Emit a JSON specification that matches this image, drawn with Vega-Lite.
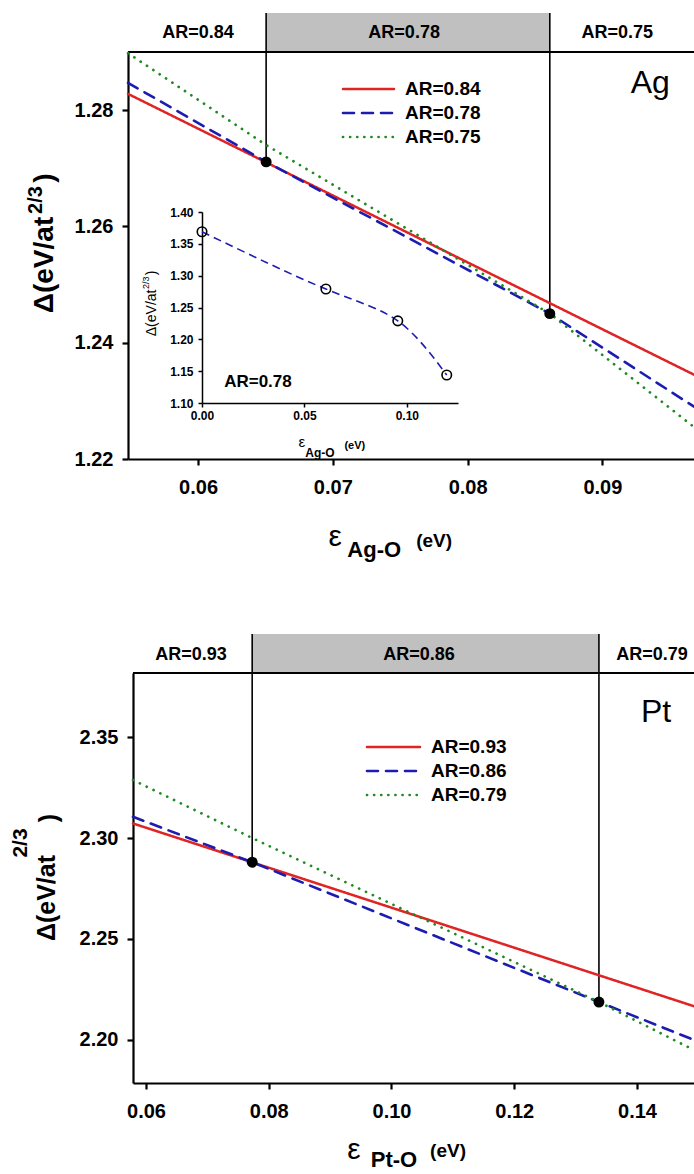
{
  "$schema": "https://vega.github.io/schema/vega-lite/v6.json",
  "width": 694,
  "height": 1174,
  "padding": 0,
  "autosize": {"type": "none"},
  "background": "white",
  "config": {
    "view": {"stroke": null},
    "font": "Liberation Sans",
    "axis": {"grid": false, "labelColor": "black", "tickColor": "black", "domainColor": "black", "labelFont": "Liberation Sans", "labelFontWeight": "bold", "labelFlush": false, "labelOverlap": false},
    "text": {"font": "Liberation Sans", "color": "black", "align": "center", "baseline": "middle"}
  },
  "datasets": {
    "curves": [
      {"panel": "Ag", "ar": "AR=0.84", "x": 0.0548, "y": 1.2828},
      {"panel": "Ag", "ar": "AR=0.84", "x": 0.0968, "y": 1.2345},
      {"panel": "Ag", "ar": "AR=0.78", "x": 0.0548, "y": 1.2847},
      {"panel": "Ag", "ar": "AR=0.78", "x": 0.06505, "y": 1.2711},
      {"panel": "Ag", "ar": "AR=0.78", "x": 0.0861, "y": 1.2450},
      {"panel": "Ag", "ar": "AR=0.78", "x": 0.0968, "y": 1.2290},
      {"panel": "Ag", "ar": "AR=0.75", "x": 0.0548, "y": 1.2898},
      {"panel": "Ag", "ar": "AR=0.75", "x": 0.06505, "y": 1.2740},
      {"panel": "Ag", "ar": "AR=0.75", "x": 0.0861, "y": 1.2450},
      {"panel": "Ag", "ar": "AR=0.75", "x": 0.0968, "y": 1.2255},
      {"panel": "Pt", "ar": "AR=0.93", "x": 0.05788, "y": 2.3072},
      {"panel": "Pt", "ar": "AR=0.93", "x": 0.14929, "y": 2.2167},
      {"panel": "Pt", "ar": "AR=0.86", "x": 0.05788, "y": 2.3105},
      {"panel": "Pt", "ar": "AR=0.86", "x": 0.0773, "y": 2.2880},
      {"panel": "Pt", "ar": "AR=0.86", "x": 0.1338, "y": 2.2188},
      {"panel": "Pt", "ar": "AR=0.86", "x": 0.14929, "y": 2.2000},
      {"panel": "Pt", "ar": "AR=0.79", "x": 0.05788, "y": 2.3287},
      {"panel": "Pt", "ar": "AR=0.79", "x": 0.0773, "y": 2.3000},
      {"panel": "Pt", "ar": "AR=0.79", "x": 0.1338, "y": 2.2188},
      {"panel": "Pt", "ar": "AR=0.79", "x": 0.14929, "y": 2.1950}
    ],
    "dots": [
      {"panel": "Ag", "x": 0.06505, "y": 1.2711, "top": 1.2967},
      {"panel": "Ag", "x": 0.0861, "y": 1.2450, "top": 1.2967},
      {"panel": "Pt", "x": 0.0773, "y": 2.2880, "top": 2.4010},
      {"panel": "Pt", "x": 0.1338, "y": 2.2188, "top": 2.4010}
    ],
    "bands": [
      {"panel": "Ag", "x": 0.06505, "x2": 0.0861, "y": 1.29, "y2": 1.2967},
      {"panel": "Pt", "x": 0.0773, "x2": 0.1338, "y": 2.3817, "y2": 2.4010}
    ],
    "borders": [
      {"panel": "Ag", "x": 0.0548, "x2": 0.0968, "y": 1.29},
      {"panel": "Pt", "x": 0.05788, "x2": 0.14929, "y": 2.3817}
    ],
    "legend": [
      {"panel": "Ag", "ar": "AR=0.84", "end": 0}, {"panel": "Ag", "ar": "AR=0.84", "end": 1},
      {"panel": "Ag", "ar": "AR=0.78", "end": 0}, {"panel": "Ag", "ar": "AR=0.78", "end": 1},
      {"panel": "Ag", "ar": "AR=0.75", "end": 0}, {"panel": "Ag", "ar": "AR=0.75", "end": 1},
      {"panel": "Pt", "ar": "AR=0.93", "end": 0}, {"panel": "Pt", "ar": "AR=0.93", "end": 1},
      {"panel": "Pt", "ar": "AR=0.86", "end": 0}, {"panel": "Pt", "ar": "AR=0.86", "end": 1},
      {"panel": "Pt", "ar": "AR=0.79", "end": 0}, {"panel": "Pt", "ar": "AR=0.79", "end": 1}
    ],
    "inset": [
      {"x": 0.0, "y": 1.369},
      {"x": 0.0605, "y": 1.279},
      {"x": 0.0956, "y": 1.229},
      {"x": 0.1195, "y": 1.144}
    ],
    "labels": [
      {"panel": "Ag", "kind": "head", "text": "AR=0.84", "x": 0.06, "y": 1.29326},
      {"panel": "Ag", "kind": "head", "text": "AR=0.78", "x": 0.07529, "y": 1.29326},
      {"panel": "Ag", "kind": "head", "text": "AR=0.75", "x": 0.09111, "y": 1.29326},
      {"panel": "Ag", "kind": "tag", "text": "Ag", "x": 0.09356, "y": 1.28466},
      {"panel": "Ag", "kind": "eps", "text": "ε", "x": 0.07017, "y": 1.20659},
      {"panel": "Ag", "kind": "sub", "text": "Ag-O", "x": 0.07307, "y": 1.20435},
      {"panel": "Ag", "kind": "unit", "text": "(eV)", "x": 0.07752, "y": 1.2059},
      {"panel": "Ag", "kind": "yt", "text": "Δ(eV/at", "x": 0.04864, "y": 1.25337},
      {"panel": "Ag", "kind": "yt", "text": ")", "x": 0.04864, "y": 1.26832},
      {"panel": "Ag", "kind": "ysup", "text": "2/3", "x": 0.04797, "y": 1.26454},
      {"panel": "Pt", "kind": "head", "text": "AR=0.93", "x": 0.06733, "y": 2.39059},
      {"panel": "Pt", "kind": "head", "text": "AR=0.86", "x": 0.10448, "y": 2.39059},
      {"panel": "Pt", "kind": "head", "text": "AR=0.79", "x": 0.14244, "y": 2.39059},
      {"panel": "Pt", "kind": "tag", "text": "Pt", "x": 0.1431, "y": 2.36238},
      {"panel": "Pt", "kind": "eps", "text": "ε", "x": 0.09389, "y": 2.14555},
      {"panel": "Pt", "kind": "sub", "text": "Pt-O", "x": 0.10041, "y": 2.14059},
      {"panel": "Pt", "kind": "unit", "text": "(eV)", "x": 0.10921, "y": 2.14505},
      {"panel": "Pt", "kind": "yt", "text": "Δ(eV/at", "x": 0.04387, "y": 2.2703},
      {"panel": "Pt", "kind": "yt", "text": ")", "x": 0.0442, "y": 2.3099},
      {"panel": "Pt", "kind": "ysup", "text": "2/3", "x": 0.03963, "y": 2.29752},
      {"panel": "In", "kind": "iar", "text": "AR=0.78", "x": 0.02732, "y": 1.13302},
      {"panel": "In", "kind": "ieps", "text": "ε", "x": 0.04878, "y": 1.03868},
      {"panel": "In", "kind": "isub", "text": "Ag-O", "x": 0.05756, "y": 1.02138},
      {"panel": "In", "kind": "iunit", "text": "(eV)", "x": 0.07463, "y": 1.03239},
      {"panel": "In", "kind": "iyt", "text": "Δ(eV/at", "x": -0.02439, "y": 1.24151},
      {"panel": "In", "kind": "iyt", "text": ")", "x": -0.02439, "y": 1.3044},
      {"panel": "In", "kind": "iysup", "text": "2/3", "x": -0.02732, "y": 1.28868}
    ]
  },
  "resolve": {
    "scale": {"x": "independent", "y": "independent", "color": "independent", "strokeDash": "independent", "strokeWidth": "independent"},
    "axis": {"x": "independent", "y": "independent"},
    "legend": {"color": "independent", "strokeDash": "independent", "strokeWidth": "independent"}
  },
  "layer": [
    {
      "data": {"name": "bands"}, "transform": [{"filter": "datum.panel === 'Ag'"}],
      "mark": {"type": "rect", "fill": "#c0c0c0"},
      "encoding": {
        "x": {"field": "x", "type": "quantitative", "scale": {"domain": [0.0548, 0.0968], "range": [128, 694], "zero": false, "nice": false}, "axis": null},
        "x2": {"field": "x2"},
        "y": {"field": "y", "type": "quantitative", "scale": {"domain": [1.22, 1.29], "range": [459, 52], "zero": false, "nice": false}, "axis": null},
        "y2": {"field": "y2"}
      }
    },
    {
      "data": {"name": "borders"}, "transform": [{"filter": "datum.panel === 'Ag'"}],
      "mark": {"type": "rule", "color": "black", "strokeWidth": 2},
      "encoding": {
        "x": {"field": "x", "type": "quantitative", "scale": {"domain": [0.0548, 0.0968], "range": [128, 694], "zero": false, "nice": false}, "axis": null},
        "x2": {"field": "x2"},
        "y": {"field": "y", "type": "quantitative", "scale": {"domain": [1.22, 1.29], "range": [459, 52], "zero": false, "nice": false}, "axis": null}
      }
    },
    {
      "data": {"name": "dots"}, "transform": [{"filter": "datum.panel === 'Ag'"}],
      "mark": {"type": "rule", "color": "black", "strokeWidth": 1.6},
      "encoding": {
        "x": {"field": "x", "type": "quantitative", "scale": {"domain": [0.0548, 0.0968], "range": [128, 694], "zero": false, "nice": false}, "axis": null},
        "y": {"field": "y", "type": "quantitative", "scale": {"domain": [1.22, 1.29], "range": [459, 52], "zero": false, "nice": false}, "axis": null},
        "y2": {"field": "top"}
      }
    },
    {
      "data": {"name": "curves"}, "transform": [{"filter": "datum.panel === 'Ag'"}],
      "mark": {"type": "line", "strokeCap": "round"},
      "encoding": {
        "x": {"field": "x", "type": "quantitative", "scale": {"domain": [0.0548, 0.0968], "range": [128, 694], "zero": false, "nice": false},
              "axis": {"orient": "bottom", "offset": -715, "values": [0.06, 0.07, 0.08, 0.09], "format": ".2f", "title": null, "labelFontSize": 20, "labelPadding": 12, "tickSize": 6, "tickWidth": 2.2, "domainWidth": 2.2}},
        "y": {"field": "y", "type": "quantitative", "scale": {"domain": [1.22, 1.29], "range": [459, 52], "zero": false, "nice": false},
              "axis": {"orient": "left", "offset": -128, "values": [1.22, 1.24, 1.26, 1.28], "format": ".2f", "title": null, "labelFontSize": 20, "labelPadding": 9, "tickSize": 6, "tickWidth": 2.2, "domainWidth": 2.2}},
        "color": {"field": "ar", "type": "nominal", "scale": {"domain": ["AR=0.84", "AR=0.78", "AR=0.75"], "range": ["#e02424", "#1c1cb0", "#1f8a1f"]}, "legend": null},
        "strokeDash": {"field": "ar", "type": "nominal", "scale": {"domain": ["AR=0.84", "AR=0.78", "AR=0.75"], "range": [[1, 0], [11, 8], [0.1, 7.5]]}, "legend": null},
        "strokeWidth": {"field": "ar", "type": "nominal", "scale": {"domain": ["AR=0.84", "AR=0.78", "AR=0.75"], "range": [2.5, 2.7, 4.2]}, "legend": null}
      }
    },
    {
      "data": {"name": "dots"}, "transform": [{"filter": "datum.panel === 'Ag'"}],
      "mark": {"type": "point", "filled": true, "color": "black", "size": 120, "opacity": 1},
      "encoding": {
        "x": {"field": "x", "type": "quantitative", "scale": {"domain": [0.0548, 0.0968], "range": [128, 694], "zero": false, "nice": false}, "axis": null},
        "y": {"field": "y", "type": "quantitative", "scale": {"domain": [1.22, 1.29], "range": [459, 52], "zero": false, "nice": false}, "axis": null}
      }
    },
    {
      "data": {"name": "legend"}, "transform": [{"filter": "datum.panel === 'Ag'"}],
      "mark": {"type": "line", "strokeCap": "round"},
      "encoding": {
        "x": {"field": "end", "type": "quantitative", "scale": {"domain": [0, 1], "range": [343, 394], "zero": false, "nice": false}, "axis": null},
        "y": {"field": "ar", "type": "nominal", "scale": {"type": "point", "domain": ["AR=0.84", "AR=0.78", "AR=0.75"], "range": [89, 137], "padding": 0}, "axis": null},
        "color": {"field": "ar", "type": "nominal", "scale": {"domain": ["AR=0.84", "AR=0.78", "AR=0.75"], "range": ["#e02424", "#1c1cb0", "#1f8a1f"]}, "legend": null},
        "strokeDash": {"field": "ar", "type": "nominal", "scale": {"domain": ["AR=0.84", "AR=0.78", "AR=0.75"], "range": [[1, 0], [11, 8], [0.1, 7]]}, "legend": null},
        "strokeWidth": {"field": "ar", "type": "nominal", "scale": {"domain": ["AR=0.84", "AR=0.78", "AR=0.75"], "range": [2.5, 2.7, 4.2]}, "legend": null}
      }
    },
    {
      "data": {"name": "legend"}, "transform": [{"filter": "datum.panel === 'Ag' && datum.end === 1"}],
      "mark": {"type": "text", "align": "left", "baseline": "middle", "dx": 11, "fontSize": 19, "fontWeight": "bold"},
      "encoding": {
        "x": {"field": "end", "type": "quantitative", "scale": {"domain": [0, 1], "range": [343, 394], "zero": false, "nice": false}, "axis": null},
        "y": {"field": "ar", "type": "nominal", "scale": {"type": "point", "domain": ["AR=0.84", "AR=0.78", "AR=0.75"], "range": [89, 137], "padding": 0}, "axis": null},
        "text": {"field": "ar"}
      }
    },
    {
      "data": {"name": "labels"}, "transform": [{"filter": "datum.panel === 'Ag' && datum.kind === 'head'"}],
      "mark": {"type": "text", "fontSize": 18, "fontWeight": "bold"},
      "encoding": {
        "x": {"field": "x", "type": "quantitative", "scale": {"domain": [0.0548, 0.0968], "range": [128, 694], "zero": false, "nice": false}, "axis": null},
        "y": {"field": "y", "type": "quantitative", "scale": {"domain": [1.22, 1.29], "range": [459, 52], "zero": false, "nice": false}, "axis": null},
        "text": {"field": "text"}
      }
    },
    {
      "data": {"name": "labels"}, "transform": [{"filter": "datum.panel === 'Ag' && datum.kind === 'tag'"}],
      "mark": {"type": "text", "fontSize": 32},
      "encoding": {
        "x": {"field": "x", "type": "quantitative", "scale": {"domain": [0.0548, 0.0968], "range": [128, 694], "zero": false, "nice": false}, "axis": null},
        "y": {"field": "y", "type": "quantitative", "scale": {"domain": [1.22, 1.29], "range": [459, 52], "zero": false, "nice": false}, "axis": null},
        "text": {"field": "text"}
      }
    },
    {
      "data": {"name": "labels"}, "transform": [{"filter": "datum.panel === 'Ag' && datum.kind === 'eps'"}],
      "mark": {"type": "text", "fontSize": 30},
      "encoding": {
        "x": {"field": "x", "type": "quantitative", "scale": {"domain": [0.0548, 0.0968], "range": [128, 694], "zero": false, "nice": false}, "axis": null},
        "y": {"field": "y", "type": "quantitative", "scale": {"domain": [1.22, 1.29], "range": [459, 52], "zero": false, "nice": false}, "axis": null},
        "text": {"field": "text"}
      }
    },
    {
      "data": {"name": "labels"}, "transform": [{"filter": "datum.panel === 'Ag' && datum.kind === 'sub'"}],
      "mark": {"type": "text", "fontSize": 22, "fontWeight": "bold"},
      "encoding": {
        "x": {"field": "x", "type": "quantitative", "scale": {"domain": [0.0548, 0.0968], "range": [128, 694], "zero": false, "nice": false}, "axis": null},
        "y": {"field": "y", "type": "quantitative", "scale": {"domain": [1.22, 1.29], "range": [459, 52], "zero": false, "nice": false}, "axis": null},
        "text": {"field": "text"}
      }
    },
    {
      "data": {"name": "labels"}, "transform": [{"filter": "datum.panel === 'Ag' && datum.kind === 'unit'"}],
      "mark": {"type": "text", "fontSize": 19, "fontWeight": "bold"},
      "encoding": {
        "x": {"field": "x", "type": "quantitative", "scale": {"domain": [0.0548, 0.0968], "range": [128, 694], "zero": false, "nice": false}, "axis": null},
        "y": {"field": "y", "type": "quantitative", "scale": {"domain": [1.22, 1.29], "range": [459, 52], "zero": false, "nice": false}, "axis": null},
        "text": {"field": "text"}
      }
    },
    {
      "data": {"name": "labels"}, "transform": [{"filter": "datum.panel === 'Ag' && datum.kind === 'yt'"}],
      "mark": {"type": "text", "fontSize": 28, "fontWeight": "bold", "angle": 270},
      "encoding": {
        "x": {"field": "x", "type": "quantitative", "scale": {"domain": [0.0548, 0.0968], "range": [128, 694], "zero": false, "nice": false}, "axis": null},
        "y": {"field": "y", "type": "quantitative", "scale": {"domain": [1.22, 1.29], "range": [459, 52], "zero": false, "nice": false}, "axis": null},
        "text": {"field": "text"}
      }
    },
    {
      "data": {"name": "labels"}, "transform": [{"filter": "datum.panel === 'Ag' && datum.kind === 'ysup'"}],
      "mark": {"type": "text", "fontSize": 20, "fontWeight": "bold", "angle": 270},
      "encoding": {
        "x": {"field": "x", "type": "quantitative", "scale": {"domain": [0.0548, 0.0968], "range": [128, 694], "zero": false, "nice": false}, "axis": null},
        "y": {"field": "y", "type": "quantitative", "scale": {"domain": [1.22, 1.29], "range": [459, 52], "zero": false, "nice": false}, "axis": null},
        "text": {"field": "text"}
      }
    },
    {
      "data": {"name": "inset"},
      "mark": {"type": "line", "color": "#1c1cb0", "strokeWidth": 1.6, "strokeDash": [8, 5], "interpolate": "natural"},
      "encoding": {
        "x": {"field": "x", "type": "quantitative", "scale": {"domain": [0, 0.125], "range": [202, 458], "zero": false, "nice": false},
              "axis": {"orient": "bottom", "offset": -771, "values": [0, 0.05, 0.1], "format": ".2f", "title": null, "labelFontSize": 12, "labelPadding": 3, "tickSize": 4, "tickWidth": 1.5, "domainWidth": 1.5}},
        "y": {"field": "y", "type": "quantitative", "scale": {"domain": [1.1, 1.4], "range": [403, 212], "zero": false, "nice": false},
              "axis": {"orient": "left", "offset": -202, "values": [1.1, 1.15, 1.2, 1.25, 1.3, 1.35, 1.4], "format": ".2f", "title": null, "labelFontSize": 12, "labelPadding": 5, "tickSize": 4, "tickWidth": 1.5, "domainWidth": 1.5}}
      }
    },
    {
      "data": {"name": "inset"},
      "mark": {"type": "point", "shape": "circle", "filled": false, "color": "black", "strokeWidth": 1.6, "size": 90, "opacity": 1},
      "encoding": {
        "x": {"field": "x", "type": "quantitative", "scale": {"domain": [0, 0.125], "range": [202, 458], "zero": false, "nice": false}, "axis": null},
        "y": {"field": "y", "type": "quantitative", "scale": {"domain": [1.1, 1.4], "range": [403, 212], "zero": false, "nice": false}, "axis": null}
      }
    },
    {
      "data": {"name": "labels"}, "transform": [{"filter": "datum.kind === 'iar'"}],
      "mark": {"type": "text", "fontSize": 17, "fontWeight": "bold"},
      "encoding": {
        "x": {"field": "x", "type": "quantitative", "scale": {"domain": [0, 0.125], "range": [202, 458], "zero": false, "nice": false}, "axis": null},
        "y": {"field": "y", "type": "quantitative", "scale": {"domain": [1.1, 1.4], "range": [403, 212], "zero": false, "nice": false}, "axis": null},
        "text": {"field": "text"}
      }
    },
    {
      "data": {"name": "labels"}, "transform": [{"filter": "datum.kind === 'ieps'"}],
      "mark": {"type": "text", "fontSize": 15},
      "encoding": {
        "x": {"field": "x", "type": "quantitative", "scale": {"domain": [0, 0.125], "range": [202, 458], "zero": false, "nice": false}, "axis": null},
        "y": {"field": "y", "type": "quantitative", "scale": {"domain": [1.1, 1.4], "range": [403, 212], "zero": false, "nice": false}, "axis": null},
        "text": {"field": "text"}
      }
    },
    {
      "data": {"name": "labels"}, "transform": [{"filter": "datum.kind === 'isub'"}],
      "mark": {"type": "text", "fontSize": 12, "fontWeight": "bold"},
      "encoding": {
        "x": {"field": "x", "type": "quantitative", "scale": {"domain": [0, 0.125], "range": [202, 458], "zero": false, "nice": false}, "axis": null},
        "y": {"field": "y", "type": "quantitative", "scale": {"domain": [1.1, 1.4], "range": [403, 212], "zero": false, "nice": false}, "axis": null},
        "text": {"field": "text"}
      }
    },
    {
      "data": {"name": "labels"}, "transform": [{"filter": "datum.kind === 'iunit'"}],
      "mark": {"type": "text", "fontSize": 11, "fontWeight": "bold"},
      "encoding": {
        "x": {"field": "x", "type": "quantitative", "scale": {"domain": [0, 0.125], "range": [202, 458], "zero": false, "nice": false}, "axis": null},
        "y": {"field": "y", "type": "quantitative", "scale": {"domain": [1.1, 1.4], "range": [403, 212], "zero": false, "nice": false}, "axis": null},
        "text": {"field": "text"}
      }
    },
    {
      "data": {"name": "labels"}, "transform": [{"filter": "datum.kind === 'iyt'"}],
      "mark": {"type": "text", "fontSize": 14, "angle": 270},
      "encoding": {
        "x": {"field": "x", "type": "quantitative", "scale": {"domain": [0, 0.125], "range": [202, 458], "zero": false, "nice": false}, "axis": null},
        "y": {"field": "y", "type": "quantitative", "scale": {"domain": [1.1, 1.4], "range": [403, 212], "zero": false, "nice": false}, "axis": null},
        "text": {"field": "text"}
      }
    },
    {
      "data": {"name": "labels"}, "transform": [{"filter": "datum.kind === 'iysup'"}],
      "mark": {"type": "text", "fontSize": 9, "angle": 270},
      "encoding": {
        "x": {"field": "x", "type": "quantitative", "scale": {"domain": [0, 0.125], "range": [202, 458], "zero": false, "nice": false}, "axis": null},
        "y": {"field": "y", "type": "quantitative", "scale": {"domain": [1.1, 1.4], "range": [403, 212], "zero": false, "nice": false}, "axis": null},
        "text": {"field": "text"}
      }
    },
    {
      "data": {"name": "bands"}, "transform": [{"filter": "datum.panel === 'Pt'"}],
      "mark": {"type": "rect", "fill": "#c0c0c0"},
      "encoding": {
        "x": {"field": "x", "type": "quantitative", "scale": {"domain": [0.05788, 0.14929], "range": [133, 694], "zero": false, "nice": false}, "axis": null},
        "x2": {"field": "x2"},
        "y": {"field": "y", "type": "quantitative", "scale": {"domain": [2.1787, 2.3817], "range": [1083, 673], "zero": false, "nice": false}, "axis": null},
        "y2": {"field": "y2"}
      }
    },
    {
      "data": {"name": "borders"}, "transform": [{"filter": "datum.panel === 'Pt'"}],
      "mark": {"type": "rule", "color": "black", "strokeWidth": 2},
      "encoding": {
        "x": {"field": "x", "type": "quantitative", "scale": {"domain": [0.05788, 0.14929], "range": [133, 694], "zero": false, "nice": false}, "axis": null},
        "x2": {"field": "x2"},
        "y": {"field": "y", "type": "quantitative", "scale": {"domain": [2.1787, 2.3817], "range": [1083, 673], "zero": false, "nice": false}, "axis": null}
      }
    },
    {
      "data": {"name": "dots"}, "transform": [{"filter": "datum.panel === 'Pt'"}],
      "mark": {"type": "rule", "color": "black", "strokeWidth": 1.6},
      "encoding": {
        "x": {"field": "x", "type": "quantitative", "scale": {"domain": [0.05788, 0.14929], "range": [133, 694], "zero": false, "nice": false}, "axis": null},
        "y": {"field": "y", "type": "quantitative", "scale": {"domain": [2.1787, 2.3817], "range": [1083, 673], "zero": false, "nice": false}, "axis": null},
        "y2": {"field": "top"}
      }
    },
    {
      "data": {"name": "curves"}, "transform": [{"filter": "datum.panel === 'Pt'"}],
      "mark": {"type": "line", "strokeCap": "round"},
      "encoding": {
        "x": {"field": "x", "type": "quantitative", "scale": {"domain": [0.05788, 0.14929], "range": [133, 694], "zero": false, "nice": false},
              "axis": {"orient": "bottom", "offset": -91, "values": [0.06, 0.08, 0.1, 0.12, 0.14], "format": ".2f", "title": null, "labelFontSize": 20, "labelPadding": 12, "tickSize": 6, "tickWidth": 2.2, "domainWidth": 2.2}},
        "y": {"field": "y", "type": "quantitative", "scale": {"domain": [2.1787, 2.3817], "range": [1083, 673], "zero": false, "nice": false},
              "axis": {"orient": "left", "offset": -133, "values": [2.2, 2.25, 2.3, 2.35], "format": ".2f", "title": null, "labelFontSize": 20, "labelPadding": 9, "tickSize": 6, "tickWidth": 2.2, "domainWidth": 2.2}},
        "color": {"field": "ar", "type": "nominal", "scale": {"domain": ["AR=0.93", "AR=0.86", "AR=0.79"], "range": ["#e02424", "#1c1cb0", "#1f8a1f"]}, "legend": null},
        "strokeDash": {"field": "ar", "type": "nominal", "scale": {"domain": ["AR=0.93", "AR=0.86", "AR=0.79"], "range": [[1, 0], [11, 8], [0.1, 7.5]]}, "legend": null},
        "strokeWidth": {"field": "ar", "type": "nominal", "scale": {"domain": ["AR=0.93", "AR=0.86", "AR=0.79"], "range": [2.5, 2.7, 4.2]}, "legend": null}
      }
    },
    {
      "data": {"name": "dots"}, "transform": [{"filter": "datum.panel === 'Pt'"}],
      "mark": {"type": "point", "filled": true, "color": "black", "size": 120, "opacity": 1},
      "encoding": {
        "x": {"field": "x", "type": "quantitative", "scale": {"domain": [0.05788, 0.14929], "range": [133, 694], "zero": false, "nice": false}, "axis": null},
        "y": {"field": "y", "type": "quantitative", "scale": {"domain": [2.1787, 2.3817], "range": [1083, 673], "zero": false, "nice": false}, "axis": null}
      }
    },
    {
      "data": {"name": "legend"}, "transform": [{"filter": "datum.panel === 'Pt'"}],
      "mark": {"type": "line", "strokeCap": "round"},
      "encoding": {
        "x": {"field": "end", "type": "quantitative", "scale": {"domain": [0, 1], "range": [367, 420], "zero": false, "nice": false}, "axis": null},
        "y": {"field": "ar", "type": "nominal", "scale": {"type": "point", "domain": ["AR=0.93", "AR=0.86", "AR=0.79"], "range": [747, 795], "padding": 0}, "axis": null},
        "color": {"field": "ar", "type": "nominal", "scale": {"domain": ["AR=0.93", "AR=0.86", "AR=0.79"], "range": ["#e02424", "#1c1cb0", "#1f8a1f"]}, "legend": null},
        "strokeDash": {"field": "ar", "type": "nominal", "scale": {"domain": ["AR=0.93", "AR=0.86", "AR=0.79"], "range": [[1, 0], [11, 8], [0.1, 7]]}, "legend": null},
        "strokeWidth": {"field": "ar", "type": "nominal", "scale": {"domain": ["AR=0.93", "AR=0.86", "AR=0.79"], "range": [2.5, 2.7, 4.2]}, "legend": null}
      }
    },
    {
      "data": {"name": "legend"}, "transform": [{"filter": "datum.panel === 'Pt' && datum.end === 1"}],
      "mark": {"type": "text", "align": "left", "baseline": "middle", "dx": 11, "fontSize": 19, "fontWeight": "bold"},
      "encoding": {
        "x": {"field": "end", "type": "quantitative", "scale": {"domain": [0, 1], "range": [367, 420], "zero": false, "nice": false}, "axis": null},
        "y": {"field": "ar", "type": "nominal", "scale": {"type": "point", "domain": ["AR=0.93", "AR=0.86", "AR=0.79"], "range": [747, 795], "padding": 0}, "axis": null},
        "text": {"field": "ar"}
      }
    },
    {
      "data": {"name": "labels"}, "transform": [{"filter": "datum.panel === 'Pt' && datum.kind === 'head'"}],
      "mark": {"type": "text", "fontSize": 18, "fontWeight": "bold"},
      "encoding": {
        "x": {"field": "x", "type": "quantitative", "scale": {"domain": [0.05788, 0.14929], "range": [133, 694], "zero": false, "nice": false}, "axis": null},
        "y": {"field": "y", "type": "quantitative", "scale": {"domain": [2.1787, 2.3817], "range": [1083, 673], "zero": false, "nice": false}, "axis": null},
        "text": {"field": "text"}
      }
    },
    {
      "data": {"name": "labels"}, "transform": [{"filter": "datum.panel === 'Pt' && datum.kind === 'tag'"}],
      "mark": {"type": "text", "fontSize": 32},
      "encoding": {
        "x": {"field": "x", "type": "quantitative", "scale": {"domain": [0.05788, 0.14929], "range": [133, 694], "zero": false, "nice": false}, "axis": null},
        "y": {"field": "y", "type": "quantitative", "scale": {"domain": [2.1787, 2.3817], "range": [1083, 673], "zero": false, "nice": false}, "axis": null},
        "text": {"field": "text"}
      }
    },
    {
      "data": {"name": "labels"}, "transform": [{"filter": "datum.panel === 'Pt' && datum.kind === 'eps'"}],
      "mark": {"type": "text", "fontSize": 30},
      "encoding": {
        "x": {"field": "x", "type": "quantitative", "scale": {"domain": [0.05788, 0.14929], "range": [133, 694], "zero": false, "nice": false}, "axis": null},
        "y": {"field": "y", "type": "quantitative", "scale": {"domain": [2.1787, 2.3817], "range": [1083, 673], "zero": false, "nice": false}, "axis": null},
        "text": {"field": "text"}
      }
    },
    {
      "data": {"name": "labels"}, "transform": [{"filter": "datum.panel === 'Pt' && datum.kind === 'sub'"}],
      "mark": {"type": "text", "fontSize": 22, "fontWeight": "bold"},
      "encoding": {
        "x": {"field": "x", "type": "quantitative", "scale": {"domain": [0.05788, 0.14929], "range": [133, 694], "zero": false, "nice": false}, "axis": null},
        "y": {"field": "y", "type": "quantitative", "scale": {"domain": [2.1787, 2.3817], "range": [1083, 673], "zero": false, "nice": false}, "axis": null},
        "text": {"field": "text"}
      }
    },
    {
      "data": {"name": "labels"}, "transform": [{"filter": "datum.panel === 'Pt' && datum.kind === 'unit'"}],
      "mark": {"type": "text", "fontSize": 19, "fontWeight": "bold"},
      "encoding": {
        "x": {"field": "x", "type": "quantitative", "scale": {"domain": [0.05788, 0.14929], "range": [133, 694], "zero": false, "nice": false}, "axis": null},
        "y": {"field": "y", "type": "quantitative", "scale": {"domain": [2.1787, 2.3817], "range": [1083, 673], "zero": false, "nice": false}, "axis": null},
        "text": {"field": "text"}
      }
    },
    {
      "data": {"name": "labels"}, "transform": [{"filter": "datum.panel === 'Pt' && datum.kind === 'yt'"}],
      "mark": {"type": "text", "fontSize": 25, "fontWeight": "bold", "angle": 270},
      "encoding": {
        "x": {"field": "x", "type": "quantitative", "scale": {"domain": [0.05788, 0.14929], "range": [133, 694], "zero": false, "nice": false}, "axis": null},
        "y": {"field": "y", "type": "quantitative", "scale": {"domain": [2.1787, 2.3817], "range": [1083, 673], "zero": false, "nice": false}, "axis": null},
        "text": {"field": "text"}
      }
    },
    {
      "data": {"name": "labels"}, "transform": [{"filter": "datum.panel === 'Pt' && datum.kind === 'ysup'"}],
      "mark": {"type": "text", "fontSize": 21, "fontWeight": "bold", "angle": 270},
      "encoding": {
        "x": {"field": "x", "type": "quantitative", "scale": {"domain": [0.05788, 0.14929], "range": [133, 694], "zero": false, "nice": false}, "axis": null},
        "y": {"field": "y", "type": "quantitative", "scale": {"domain": [2.1787, 2.3817], "range": [1083, 673], "zero": false, "nice": false}, "axis": null},
        "text": {"field": "text"}
      }
    }
  ]
}
